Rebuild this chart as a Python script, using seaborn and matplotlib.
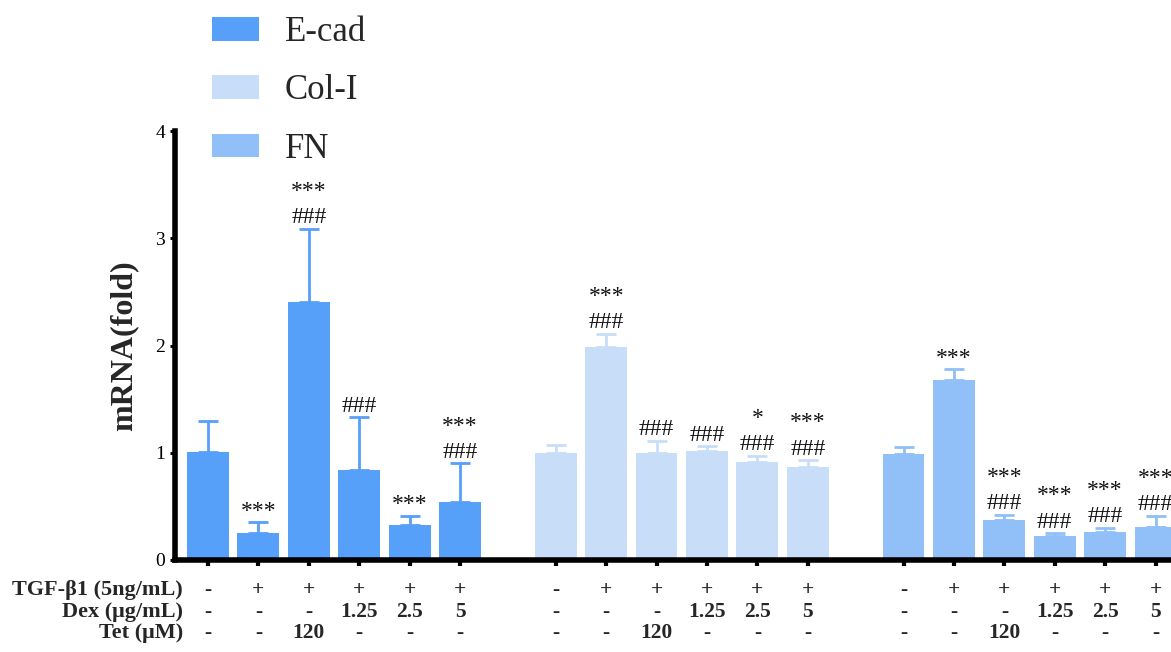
import matplotlib
matplotlib.use("Agg")
import matplotlib.pyplot as plt
import seaborn as sns
import pandas as pd

# values (mean, upward SD)
genes = ["E-cad", "Col-I", "FN"]
ecad_mean = [1.01, 0.25, 2.41, 0.84, 0.33, 0.54]
ecad_sd = [0.29, 0.10, 0.68, 0.49, 0.08, 0.36]
col_mean = [1.00, 1.99, 1.00, 1.02, 0.91, 0.87]
col_sd = [0.07, 0.12, 0.11, 0.04, 0.06, 0.06]
fn_mean = [0.99, 1.68, 0.37, 0.22, 0.26, 0.31]
fn_sd = [0.06, 0.10, 0.05, 0.03, 0.04, 0.10]

# significance marks per bar
ecad_star = ["", "***", "***", "", "***", "***"]
ecad_hash = ["", "", "###", "###", "", "###"]
col_star = ["", "***", "", "", "*", "***"]
col_hash = ["", "###", "###", "###", "###", "###"]
fn_star = ["", "***", "***", "***", "***", "***"]
fn_hash = ["", "", "###", "###", "###", "###"]

# treatment table under the axis
row_labels = ["TGF-\u03b21 (5ng/mL)", "Dex (\u03bcg/mL)", "Tet (\u03bcM)"]
tgf = ["-", "+", "+", "+", "+", "+"]
dex = ["-", "-", "-", "1.25", "2.5", "5"]
tet = ["-", "-", "120", "-", "-", "-"]

colors = ["#56A0F9", "#C8DEF8", "#91BFF7"]

sns.set_style("ticks")
plt.rcParams["font.family"] = ["Liberation Serif", "DejaVu Serif"]

group_step = 6.9
means = [ecad_mean, col_mean, fn_mean]
sds = [ecad_sd, col_sd, fn_sd]
stars = [ecad_star, col_star, fn_star]
hashes = [ecad_hash, col_hash, fn_hash]

rows = []
for g, gene in enumerate(genes):
    for i in range(6):
        rows.append({"gene": gene, "pos": g * group_step + i,
                     "mean": means[g][i], "sd": sds[g][i],
                     "star": stars[g][i], "hash": hashes[g][i]})
df = pd.DataFrame(rows)

fig = plt.figure(figsize=(11.71, 6.52), dpi=100)
ax = fig.add_axes([175 / 1171, 92 / 652, 996 / 1171, 429 / 652])

sns.barplot(data=df, x="pos", y="mean", hue="gene", hue_order=genes,
            palette=colors, saturation=1, native_scale=True, dodge=False,
            width=0.83, errorbar=None, linewidth=0, ax=ax)

handles, labels = ax.get_legend_handles_labels()

for gene, color in zip(genes, colors):
    sub = df[df["gene"] == gene]
    ax.errorbar(sub["pos"], sub["mean"], yerr=[[0] * len(sub), sub["sd"]],
                fmt="none", ecolor=color, elinewidth=2, capsize=7, capthick=2)

# marks above error bars
for _, r in df.iterrows():
    top = r["mean"] + r["sd"]
    lines = [s for s in (r["hash"], r["star"]) if s]
    for k, s in enumerate(lines):
        ax.annotate(s, xy=(r["pos"], top), xytext=(0, 4 + 19 * k),
                    textcoords="offset points", ha="center", va="baseline",
                    fontsize=17, color="#111111")

ax.set_ylim(0, 4)
ax.set_xlim(-(208 - 175) / 50.4, (1171 - 208) / 50.4)
ax.set_yticks([0, 1, 2, 3, 4])
ax.set_xticks(df["pos"])
ax.set_xticklabels([])
ax.set_xlabel("")
ax.tick_params(axis="y", length=3.6, width=2.2, pad=3.5, labelsize=14,
               colors="black")
ax.tick_params(axis="x", length=4.3, width=3, colors="black")
sns.despine(ax=ax)
for side in ("left", "bottom"):
    ax.spines[side].set_linewidth(4)
    ax.spines[side].set_color("black")

ax.set_ylabel("mRNA(fold)", fontsize=23, fontweight="bold")
ax.yaxis.set_label_coords(-0.037, 0.5)

# treatment table
trans = ax.get_xaxis_transform()
row_y = [-0.0816, -0.1329, -0.1818]
for y, lab, vals in zip(row_y, row_labels, [tgf, dex, tet]):
    ax.text(0.008, y, lab, transform=ax.transAxes, ha="right", va="baseline",
            fontsize=16, fontweight="bold")
    for g in range(3):
        for i, v in enumerate(vals):
            ax.text(g * group_step + i, y, v, transform=trans, ha="center",
                    va="baseline", fontsize=15.5, fontweight="bold",
                    clip_on=False)

ax.legend(handles, labels, loc="upper left", frameon=False,
          bbox_to_anchor=(212 / 1171, 1 - 16 / 652),
          bbox_transform=fig.transFigure, borderpad=0, borderaxespad=0,
          fontsize=25, handlelength=1.35, handleheight=0.66,
          handletextpad=0.75, labelspacing=0.73)

fig.savefig("out.png", dpi=100)
